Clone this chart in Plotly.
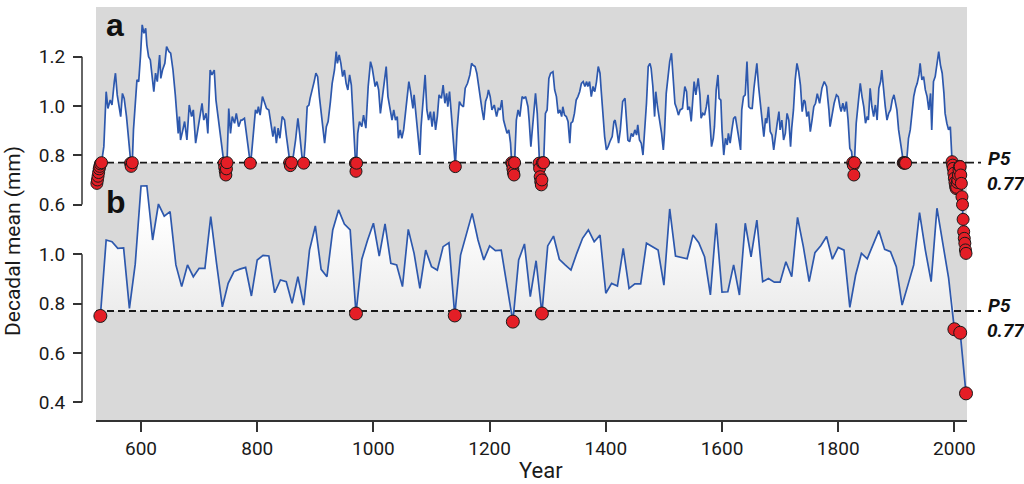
import plotly.graph_objects as go
import numpy as np

P5 = 0.77

# ---- panel a: running decadal mean ----
years_a = [
    524, 525, 526, 527, 528, 529, 530, 532, 536, 540,
    543, 547, 550, 554, 556, 559, 562, 565, 568, 571,
    575, 579, 582, 583, 585, 587, 593, 596, 599, 602,
    605, 608, 610, 613, 616, 619, 622, 625, 628, 632,
    634, 637, 641, 644, 648, 651, 655, 659, 664, 666,
    668, 672, 675, 679, 683, 687, 690, 694, 698, 702,
    705, 708, 712, 715, 719, 722, 726, 729, 733, 737,
    741, 743, 744, 745, 746, 747, 748, 751, 754, 757,
    761, 764, 768, 772, 774, 778, 782, 786, 788, 790,
    793, 797, 800, 802, 805, 809, 812, 816, 820, 824,
    827, 830, 833, 836, 839, 843, 847, 850, 854, 856,
    857, 859, 862, 866, 870, 873, 877, 880, 883, 886,
    889, 891, 895, 898, 901, 904, 907, 910, 913, 916,
    919, 922, 926, 929, 933, 936, 938, 941, 944, 947,
    950, 953, 956, 959, 962, 966, 969, 970, 971, 973,
    976, 980, 983, 987, 991, 995, 998, 1000, 1003, 1006,
    1009, 1012, 1016, 1019, 1022, 1025, 1029, 1032, 1035, 1038,
    1041, 1043, 1046, 1049, 1052, 1056, 1061, 1064, 1068, 1070,
    1074, 1077, 1080, 1082, 1086, 1089, 1092, 1095, 1098, 1101,
    1104, 1107, 1110, 1113, 1117, 1120, 1123, 1126, 1128, 1131,
    1134, 1137, 1141, 1144, 1148, 1151, 1155, 1158, 1162, 1166,
    1169, 1171, 1175, 1178, 1181, 1184, 1187, 1190, 1193, 1196,
    1198, 1201, 1204, 1208, 1212, 1215, 1218, 1221, 1224, 1227,
    1230, 1233, 1236, 1238, 1239, 1240, 1241, 1242, 1243, 1246,
    1249, 1252, 1256, 1259, 1262, 1266, 1268, 1271, 1275, 1279,
    1282, 1285, 1286, 1287, 1288, 1289, 1290, 1291, 1293, 1296,
    1299, 1302, 1305, 1309, 1312, 1315, 1318, 1321, 1324, 1326,
    1329, 1332, 1335, 1338, 1340, 1343, 1346, 1349, 1352, 1355,
    1358, 1361, 1364, 1367, 1369, 1372, 1375, 1378, 1381, 1384,
    1387, 1390, 1392, 1395, 1398, 1401, 1404, 1407, 1411, 1414,
    1416, 1419, 1422, 1425, 1429, 1433, 1435, 1438, 1441, 1444,
    1447, 1450, 1453, 1455, 1458, 1461, 1464, 1467, 1470, 1473,
    1476, 1478, 1481, 1484, 1486, 1489, 1493, 1496, 1499, 1501,
    1504, 1507, 1510, 1513, 1516, 1519, 1522, 1525, 1528, 1532,
    1536, 1539, 1541, 1544, 1547, 1550, 1552, 1555, 1559, 1562,
    1564, 1567, 1570, 1573, 1576, 1579, 1582, 1585, 1587, 1590,
    1593, 1595, 1598, 1600, 1603, 1606, 1609, 1611, 1614, 1617,
    1620, 1623, 1626, 1629, 1632, 1634, 1637, 1640, 1643, 1646,
    1649, 1652, 1655, 1657, 1660, 1663, 1666, 1669, 1672, 1675,
    1677, 1680, 1683, 1686, 1689, 1692, 1695, 1698, 1700, 1703,
    1706, 1709, 1712, 1715, 1718, 1720, 1723, 1726, 1729, 1732,
    1735, 1738, 1741, 1743, 1746, 1749, 1752, 1755, 1758, 1761,
    1764, 1768, 1772, 1776, 1780, 1784, 1786, 1789, 1793, 1797,
    1800, 1803, 1805, 1808, 1811, 1814, 1817, 1820, 1823, 1825,
    1826, 1827, 1828, 1831, 1835, 1838, 1841, 1844, 1847, 1850,
    1852, 1855, 1858, 1861, 1864, 1867, 1870, 1873, 1875, 1878,
    1881, 1884, 1887, 1890, 1893, 1896, 1898, 1901, 1904, 1907,
    1910, 1912, 1913, 1914, 1915, 1916, 1918, 1921, 1924, 1927,
    1930, 1933, 1936, 1939, 1941, 1944, 1947, 1950, 1953, 1956,
    1959, 1961, 1964, 1967, 1970, 1973, 1976, 1979, 1982, 1984,
    1987, 1990, 1993, 1995, 1996, 1997, 1998, 1999, 2000, 2001,
    2002, 2003, 2004, 2005, 2006, 2007, 2008, 2009, 2010, 2011,
    2012, 2013, 2014, 2015, 2016, 2017, 2018, 2019, 2020,
]
vals_a = [
    0.686, 0.700, 0.715, 0.730, 0.745, 0.755, 0.765, 0.770, 0.835, 1.058,
    0.990, 1.024, 1.004, 1.099, 1.133, 1.045, 0.997, 0.957, 1.051, 1.031,
    0.957, 0.862, 0.768, 0.755, 0.770, 0.903, 1.106, 1.099, 1.200, 1.329,
    1.295, 1.315, 1.248, 1.200, 1.187, 1.119, 1.058, 1.133, 1.099, 1.207,
    1.112, 1.146, 1.173, 1.241, 1.221, 1.214, 1.146, 1.045, 0.889, 0.957,
    0.862, 0.903, 0.937, 0.862, 1.004, 0.957, 0.984, 0.849, 0.910, 0.957,
    1.011, 0.943, 0.970, 0.889, 1.146, 1.126, 1.146, 1.024, 0.943, 0.869,
    0.800, 0.768, 0.750, 0.735, 0.720, 0.745, 0.770, 0.990, 0.889, 0.957,
    0.930, 0.970, 0.916, 0.943, 0.943, 0.950, 0.876, 0.800, 0.768, 0.800,
    0.889, 0.984, 0.970, 0.997, 0.963, 1.038, 1.018, 0.990, 0.984, 0.930,
    0.876, 0.916, 0.849, 0.910, 0.869, 0.957, 0.943, 0.882, 0.808, 0.770,
    0.758, 0.770, 0.795, 0.862, 0.950, 0.889, 0.795, 0.768, 0.862, 0.997,
    1.004, 1.031, 1.065, 1.099, 1.133, 1.119, 1.038, 0.970, 0.889, 0.849,
    0.916, 0.937, 1.018, 1.092, 1.146, 1.221, 1.173, 1.207, 1.173, 1.119,
    1.146, 1.092, 1.065, 1.126, 1.085, 0.930, 0.768, 0.735, 0.768, 0.889,
    0.937, 0.916, 0.963, 0.910, 1.079, 1.180, 1.153, 1.126, 1.079, 1.099,
    1.065, 0.970, 1.038, 1.092, 1.160, 1.038, 0.984, 0.943, 0.984, 0.943,
    0.957, 0.869, 0.903, 0.869, 0.903, 0.984, 1.099, 1.058, 0.990, 1.045,
    0.957, 0.889, 0.801, 0.916, 1.024, 1.126, 0.984, 0.943, 0.977, 0.916,
    0.977, 0.903, 0.957, 1.045, 1.031, 1.085, 1.011, 1.051, 0.997, 1.058,
    0.970, 0.862, 0.754, 0.903, 1.018, 1.004, 0.997, 1.072, 1.092, 1.126,
    1.173, 1.166, 1.160, 1.133, 1.079, 1.038, 0.984, 0.943, 1.018, 1.038,
    1.065, 1.038, 0.984, 1.004, 0.957, 0.990, 0.984, 1.024, 0.943, 0.916,
    0.889, 0.903, 0.849, 0.770, 0.765, 0.745, 0.730, 0.720, 0.770, 0.943,
    0.984, 0.957, 1.038, 1.031, 1.038, 0.997, 0.943, 0.835, 0.943, 1.051,
    0.970, 0.768, 0.747, 0.713, 0.693, 0.680, 0.700, 0.770, 0.770, 0.970,
    0.984, 1.112, 1.133, 1.139, 1.065, 1.038, 0.970, 0.984, 0.957, 0.997,
    0.963, 0.957, 0.937, 0.849, 0.930, 0.937, 0.970, 1.024, 1.038, 1.058,
    1.092, 1.099, 1.079, 1.099, 1.079, 1.099, 1.038, 1.079, 1.058, 1.099,
    1.160, 1.133, 1.065, 0.970, 0.876, 0.822, 0.835, 0.855, 0.876, 0.937,
    0.943, 0.903, 0.849, 0.903, 1.018, 1.031, 0.957, 0.862, 0.855, 0.889,
    0.876, 0.903, 0.882, 0.923, 0.862, 0.849, 0.801, 0.889, 1.011, 1.160,
    1.173, 1.153, 1.079, 0.957, 1.058, 0.997, 0.943, 0.889, 0.822, 0.889,
    1.051, 1.133, 1.180, 1.214, 1.119, 1.010, 0.990, 0.963, 0.984, 0.990,
    1.079, 1.058, 0.984, 0.997, 0.937, 1.045, 1.099, 1.045, 1.112, 1.045,
    0.950, 0.970, 0.963, 0.997, 1.045, 0.943, 0.835, 0.869, 0.916, 1.065,
    1.126, 1.031, 1.024, 0.903, 0.801, 0.869, 0.842, 0.889, 0.849, 0.903,
    0.950, 0.957, 0.903, 0.869, 0.822, 0.984, 1.038, 1.045, 1.180, 0.997,
    0.990, 0.990, 1.072, 1.126, 1.173, 1.079, 0.997, 0.943, 0.876, 0.950,
    0.930, 0.997, 0.896, 0.882, 0.822, 0.889, 0.930, 0.977, 0.903, 0.943,
    0.862, 0.889, 0.970, 0.943, 0.835, 0.910, 0.984, 1.106, 1.173, 1.139,
    1.085, 0.977, 1.024, 1.018, 0.957, 0.977, 0.896, 0.943, 0.997, 1.011,
    1.050, 1.011, 1.072, 1.099, 1.079, 0.984, 0.916, 0.957, 1.011, 1.045,
    1.038, 0.997, 0.977, 1.011, 0.977, 1.018, 0.943, 0.828, 0.815, 0.770,
    0.760, 0.720, 0.770, 0.930, 1.024, 1.092, 1.038, 0.997, 0.930, 0.957,
    0.943, 1.072, 0.997, 0.957, 1.004, 0.943, 1.072, 1.099, 1.146, 1.065,
    0.997, 0.943, 0.970, 0.984, 1.024, 1.045, 1.024, 0.984, 0.903, 0.862,
    0.808, 0.770, 0.768, 0.768, 0.770, 0.768, 0.781, 0.869, 0.903, 0.970,
    1.038, 1.072, 1.092, 1.126, 1.173, 1.106, 1.119, 1.065, 1.038, 0.984,
    1.051, 0.903, 1.099, 1.119, 1.173, 1.221, 1.166, 1.133, 1.051, 0.970,
    0.930, 0.903, 0.916, 0.788, 0.774, 0.760, 0.747, 0.727, 0.707, 0.690,
    0.675, 0.665, 0.670, 0.690, 0.700, 0.720, 0.740, 0.755, 0.754, 0.720,
    0.686, 0.632, 0.600, 0.540, 0.490, 0.463, 0.443, 0.416, 0.402,
]

# ---- panel b: decadal means ----
years_b = list(range(530, 2021, 10))
vals_b = [
    0.750, 1.058, 1.051, 1.024, 1.026, 0.781, 0.960, 1.277, 1.278, 1.058,
    1.204, 1.155, 1.173, 0.957, 0.869, 0.957, 0.909, 0.943, 0.943, 1.153,
    0.963, 0.787, 0.882, 0.930, 0.940, 0.947, 0.831, 0.977, 0.996, 0.993,
    0.844, 0.896, 0.889, 0.801, 0.909, 0.794, 1.017, 1.115, 0.939, 0.909,
    1.099, 1.180, 1.123, 1.099, 0.760, 0.980, 1.058, 1.126, 0.993, 1.123,
    0.963, 0.957, 0.869, 1.101, 1.004, 0.862, 1.017, 0.950, 0.936, 1.031,
    1.047, 0.752, 0.997, 1.078, 1.166, 1.058, 0.977, 1.034, 1.015, 1.017,
    0.875, 0.727, 0.977, 1.042, 0.828, 0.974, 0.760, 1.034, 1.074, 0.980,
    0.957, 0.936, 1.004, 1.065, 1.099, 1.051, 1.078, 0.842, 0.882, 0.871,
    1.024, 0.862, 0.880, 0.880, 1.045, 1.031, 1.017, 0.875, 1.184, 0.993,
    0.988, 0.982, 1.078, 1.047, 0.990, 0.835, 1.126, 0.847, 0.848, 0.957,
    0.835, 1.126, 0.990, 1.139, 0.889, 0.902, 0.887, 0.887, 0.970, 0.909,
    1.150, 1.031, 0.889, 1.007, 1.035, 1.072, 0.980, 1.028, 1.017, 0.785,
    0.916, 1.004, 0.982, 1.038, 1.096, 1.020, 1.011, 0.950, 0.794, 0.875,
    0.957, 1.169, 1.017, 0.889, 1.187, 1.045, 0.904, 0.696, 0.682, 0.436,
]

x_ticks = [600, 800, 1000, 1200, 1400, 1600, 1800, 2000]
ya_ticks = [0.6, 0.8, 1.0, 1.2]
yb_ticks = [0.4, 0.6, 0.8, 1.0]

n_a = min(len(years_a), len(vals_a))
years_a, vals_a = years_a[:n_a], vals_a[:n_a]
n_b = min(len(years_b), len(vals_b))
years_b, vals_b = years_b[:n_b], vals_b[:n_b]

# ---- styling / geometry ----
W, H = 1024, 484
ML, MR, MT, MB = 82, 57, 7, 64
PW, PH = W - ML - MR, H - MT - MB
X_RANGE = [522.5, 2021.7]
YA_RANGE = [-0.274, 1.4016]
YB_RANGE = [0.328, 2.003]
FONT = "Roboto, Liberation Sans, Arial, sans-serif"
BLUE = "#2d58ad"
RED = "#e41e26"
INK = "#1a1a1a"
DASH = dict(color=INK, width=1.8, dash="7px,4px")


def pxx(x):
    return (x - ML) / PW


def pxy(y):
    return 1 - (y - MT) / PH


fig = go.Figure()

va = np.array(vals_a)
vb = np.array(vals_b)

# panel a fill
fig.add_trace(go.Scatter(x=years_a, y=[P5] * n_a, mode="lines", line=dict(width=0),
                         yaxis="y", hoverinfo="skip", showlegend=False))
fig.add_trace(go.Scatter(x=years_a, y=np.maximum(va, P5), mode="lines", line=dict(width=0),
                         fill="tonexty", fillcolor="#ffffff", yaxis="y",
                         hoverinfo="skip", showlegend=False))
# panel b fill
fig.add_trace(go.Scatter(x=years_b, y=[P5] * n_b, mode="lines", line=dict(width=0),
                         yaxis="y2", hoverinfo="skip", showlegend=False))
fig.add_trace(go.Scatter(x=years_b, y=np.maximum(vb, P5), mode="lines", line=dict(width=0),
                         fill="tonexty",
                         fillgradient=dict(type="vertical", start=P5, stop=1.15,
                                           colorscale=[[0, "#ececec"], [1, "#ffffff"]]),
                         yaxis="y2", hoverinfo="skip", showlegend=False))

# dashed P5 lines
for ax in ("y", "y2"):
    fig.add_trace(go.Scatter(x=X_RANGE, y=[P5, P5], mode="lines", line=DASH,
                             yaxis=ax, hoverinfo="skip", showlegend=False))

# series lines
fig.add_trace(go.Scatter(x=years_a, y=vals_a, mode="lines", line=dict(color=BLUE, width=1.7),
                         yaxis="y", showlegend=False))
fig.add_trace(go.Scatter(x=years_b, y=vals_b, mode="lines", line=dict(color=BLUE, width=1.7),
                         yaxis="y2", showlegend=False))

# points below P5
ma = va <= 0.775
mb = vb <= 0.775
fig.add_trace(go.Scatter(x=np.array(years_a)[ma], y=va[ma], mode="markers",
                         marker=dict(size=12, color=RED, line=dict(color=INK, width=1)),
                         yaxis="y", cliponaxis=False, showlegend=False))
fig.add_trace(go.Scatter(x=np.array(years_b)[mb], y=vb[mb], mode="markers",
                         marker=dict(size=13, color=RED, line=dict(color=INK, width=1)),
                         yaxis="y2", cliponaxis=False, showlegend=False))

tickfont = dict(family=FONT, size=19, color=INK)
d0 = pxx(96)

fig.update_layout(
    width=W, height=H,
    margin=dict(l=ML, r=MR, t=MT, b=MB, pad=0),
    paper_bgcolor="#ffffff",
    plot_bgcolor="#d9d9d9",
    showlegend=False,
    hovermode=False,
    xaxis=dict(domain=[d0, 1], range=X_RANGE, tickvals=x_ticks, ticks="outside",
               ticklen=10, tickwidth=1.5, tickcolor="#333333", showline=True,
               linecolor="#333333", linewidth=2, showgrid=False, zeroline=False,
               tickfont=tickfont, anchor="y"),
    yaxis=dict(domain=[0, 1], range=YA_RANGE, tickvals=ya_ticks,
               ticktext=[f"{v:.1f}" for v in ya_ticks], ticks="outside", ticklen=9,
               tickwidth=1.5, tickcolor="#333333", anchor="free", position=0,
               showline=False, showgrid=False, zeroline=False, tickfont=tickfont,
               ticklabelstandoff=4),
    yaxis2=dict(domain=[0, 1], range=YB_RANGE, tickvals=yb_ticks,
                ticktext=[f"{v:.1f}" for v in yb_ticks], ticks="outside", ticklen=9,
                tickwidth=1.5, tickcolor="#333333", anchor="free", position=0,
                overlaying="y", side="left", showline=False, showgrid=False,
                zeroline=False, tickfont=tickfont, ticklabelstandoff=4),
)

# axis brackets + dashed stubs beyond the plot area
fig.add_shape(type="line", xref="paper", yref="y", x0=0, x1=0, y0=0.6, y1=1.2,
              line=dict(color="#333333", width=1.5))
fig.add_shape(type="line", xref="paper", yref="y2", x0=0, x1=0, y0=0.4, y1=1.0,
              line=dict(color="#333333", width=1.5))
for ax in ("y", "y2"):
    fig.add_shape(type="line", xref="paper", yref=ax, x0=1.0, x1=pxx(981), y0=P5, y1=P5,
                  line=DASH)

ann = []
ann.append(dict(text="<b>a</b>", x=pxx(104), y=pxy(25), xanchor="left", yanchor="middle",
                font=dict(family="Liberation Sans, Arial, sans-serif", size=32, color="#111")))
ann.append(dict(text="<b>b</b>", x=pxx(104), y=pxy(202), xanchor="left", yanchor="middle",
                font=dict(family="Liberation Sans, Arial, sans-serif", size=32, color="#111")))
for yc in (158, 305):
    ann.append(dict(text="<b><i>P5</i></b>", x=pxx(986), y=pxy(yc), xanchor="left",
                    yanchor="middle", font=dict(family=FONT, size=19, color="#111")))
    ann.append(dict(text="<b><i>0.77</i></b>", x=pxx(985), y=pxy(yc + 25), xanchor="left",
                    yanchor="middle", font=dict(family=FONT, size=19, color="#111")))
ann.append(dict(text="Year", x=pxx(541), y=pxy(470), xanchor="center", yanchor="middle",
                font=dict(family=FONT, size=22, color=INK)))
ann.append(dict(text="Decadal mean (mm)", x=pxx(13), y=pxy(241), xanchor="center",
                yanchor="middle", textangle=-90, font=dict(family=FONT, size=21, color=INK)))
for a in ann:
    a.update(xref="paper", yref="paper", showarrow=False)
fig.update_layout(annotations=ann)

fig.write_html("out.html")
